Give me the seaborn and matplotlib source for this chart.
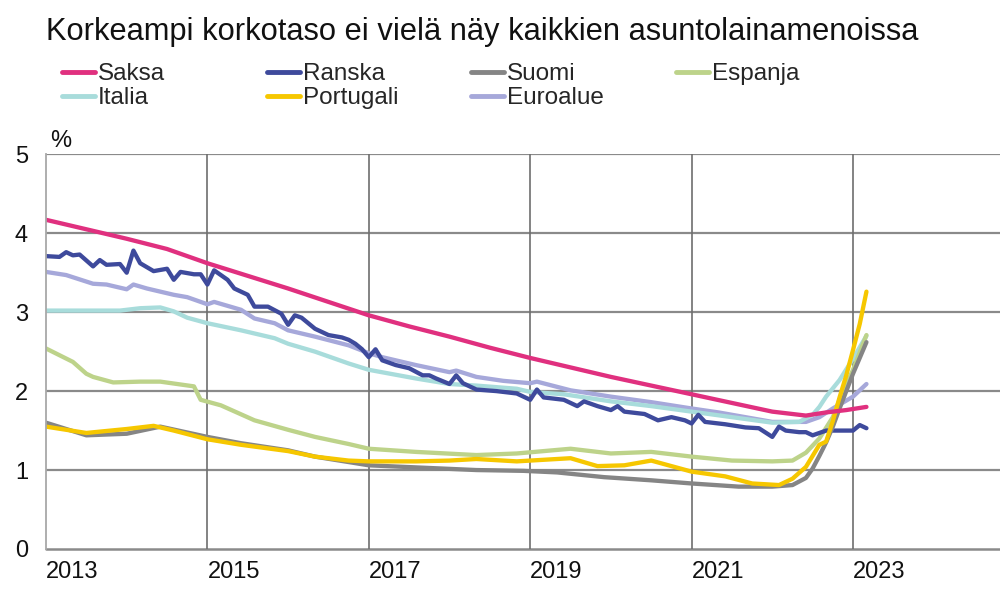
import numpy as np
import pandas as pd
import matplotlib
matplotlib.use("Agg")
import matplotlib.pyplot as plt
import seaborn as sns

# ---- data: months since 2013-01 and rate values (%) ----
saksa_m = [0, 6, 12, 18, 24, 30, 36, 42, 48, 54, 60, 66, 72, 78, 84, 90, 96, 102, 108, 113, 116, 119, 122]
saksa_v = [4.17, 4.05, 3.93, 3.80, 3.62, 3.46, 3.30, 3.13, 2.96, 2.82, 2.69, 2.55, 2.42, 2.30, 2.18, 2.07, 1.96, 1.85, 1.74, 1.69, 1.73, 1.76, 1.80]

ranska_m = [0, 2, 3, 4, 5, 7, 8, 9, 11, 12, 13, 14, 16, 18, 19, 20, 22, 23, 24, 25, 27, 28, 30, 31, 33, 35, 36, 37, 38,
            40, 42, 44, 45, 46, 47, 48, 49, 50, 52, 54, 56, 57, 58, 60, 61, 62, 64, 67, 70, 72, 73, 74, 77, 79, 80,
            82, 84, 85, 86, 89, 91, 93, 95, 96, 97, 98, 101, 104, 106, 108, 109, 110, 112, 113, 114, 116, 118, 120, 121, 122]
ranska_v = [3.71, 3.70, 3.76, 3.72, 3.73, 3.58, 3.66, 3.60, 3.61, 3.50, 3.78, 3.62, 3.52, 3.55, 3.41, 3.51, 3.48, 3.48,
            3.35, 3.53, 3.41, 3.30, 3.22, 3.07, 3.07, 2.98, 2.84, 2.96, 2.93, 2.79, 2.71, 2.68, 2.65, 2.60, 2.53, 2.43,
            2.53, 2.39, 2.33, 2.29, 2.20, 2.20, 2.16, 2.09, 2.20, 2.10, 2.02, 2.00, 1.97, 1.89, 2.02, 1.92, 1.89, 1.81,
            1.87, 1.81, 1.76, 1.81, 1.74, 1.71, 1.63, 1.67, 1.63, 1.59, 1.70, 1.61, 1.58, 1.54, 1.53, 1.42, 1.55, 1.50,
            1.48, 1.48, 1.44, 1.50, 1.50, 1.50, 1.57, 1.53]

suomi_m = [0, 6, 12, 17, 24, 29, 36, 40, 48, 56, 64, 71, 76, 83, 90, 96, 103, 108, 111, 113, 114, 115, 116, 117, 118, 119, 120, 121, 122]
suomi_v = [1.60, 1.44, 1.46, 1.55, 1.42, 1.34, 1.25, 1.17, 1.06, 1.03, 1.00, 0.99, 0.97, 0.91, 0.87, 0.83, 0.79, 0.79,
           0.81, 0.90, 1.02, 1.18, 1.35, 1.55, 1.78, 2.00, 2.22, 2.42, 2.62]

espanja_m = [0, 4, 6, 7, 10, 14, 17, 22, 23, 26, 31, 36, 40, 45, 48, 55, 64, 70, 78, 84, 90, 96, 102, 108, 111, 113, 115, 117, 118, 120, 122]
espanja_v = [2.54, 2.37, 2.22, 2.18, 2.11, 2.12, 2.12, 2.06, 1.89, 1.82, 1.63, 1.51, 1.42, 1.33, 1.27, 1.23, 1.19, 1.21,
             1.27, 1.21, 1.23, 1.17, 1.12, 1.11, 1.12, 1.22, 1.40, 1.67, 1.89, 2.27, 2.71]

italia_m = [0, 11, 14, 17, 19, 21, 24, 29, 34, 36, 40, 45, 48, 55, 60, 64, 70, 72, 77, 84, 90, 96, 102, 108, 112, 114, 115, 116, 118, 120, 122]
italia_v = [3.02, 3.02, 3.05, 3.06, 3.01, 2.93, 2.86, 2.77, 2.67, 2.60, 2.50, 2.35, 2.27, 2.16, 2.09, 2.07, 2.03, 1.99,
            1.96, 1.87, 1.81, 1.74, 1.67, 1.60, 1.61, 1.70, 1.80, 1.93, 2.14, 2.41, 2.70]

portugali_m = [0, 6, 12, 16, 19, 24, 29, 36, 40, 45, 48, 55, 60, 64, 70, 72, 78, 82, 86, 90, 93, 96, 101, 105, 109, 111,
               113, 115, 116, 117, 118, 119, 120, 121, 122]
portugali_v = [1.55, 1.47, 1.52, 1.56, 1.50, 1.39, 1.32, 1.24, 1.17, 1.12, 1.11, 1.11, 1.12, 1.14, 1.11, 1.12, 1.15, 1.05,
               1.06, 1.12, 1.05, 0.98, 0.92, 0.83, 0.81, 0.89, 1.04, 1.32, 1.36, 1.62, 1.92, 2.20, 2.52, 2.85, 3.26]

euroalue_m = [0, 3, 7, 9, 12, 13, 15, 19, 21, 24, 25, 29, 31, 34, 36, 40, 45, 48, 50, 55, 60, 61, 64, 68, 72, 73, 78, 84,
              90, 96, 100, 104, 108, 113, 115, 117, 120, 122]
euroalue_v = [3.51, 3.47, 3.36, 3.35, 3.29, 3.35, 3.30, 3.22, 3.19, 3.10, 3.13, 3.03, 2.92, 2.86, 2.77, 2.69, 2.58, 2.48,
              2.43, 2.33, 2.24, 2.26, 2.18, 2.13, 2.10, 2.12, 2.01, 1.93, 1.86, 1.78, 1.73, 1.67, 1.61, 1.61, 1.67, 1.78,
              1.93, 2.09]

series_names = ["Saksa", "Ranska", "Suomi", "Espanja", "Italia", "Portugali", "Euroalue"]
series_data = {
    "Saksa": (saksa_m, saksa_v),
    "Ranska": (ranska_m, ranska_v),
    "Suomi": (suomi_m, suomi_v),
    "Espanja": (espanja_m, espanja_v),
    "Italia": (italia_m, italia_v),
    "Portugali": (portugali_m, portugali_v),
    "Euroalue": (euroalue_m, euroalue_v),
}
colors = {
    "Saksa": "#E0307F",
    "Ranska": "#3E4A9C",
    "Suomi": "#858585",
    "Espanja": "#BDD38A",
    "Italia": "#A8DCDB",
    "Portugali": "#F6C700",
    "Euroalue": "#A6A8DA",
}
year_ticks = [2013, 2015, 2017, 2019, 2021, 2023]

title = "Korkeampi korkotaso ei vielä näy kaikkien asuntolainamenoissa"

rows = []
for name in series_names:
    ms, vs = series_data[name]
    for m, v in zip(ms, vs):
        rows.append({"x": 2013 + m / 12.0, "value": v, "series": name})
df = pd.DataFrame(rows)

sns.set_theme(style="white")
plt.rcParams["font.family"] = ["Liberation Sans", "DejaVu Sans"]

fig = plt.figure(figsize=(10, 5.9), dpi=100)
ax = fig.add_axes([0.046, 0.0695, 0.954, 0.669])

draw_order = ["Euroalue", "Italia", "Espanja", "Ranska", "Suomi", "Portugali", "Saksa"]
sns.lineplot(data=df, x="x", y="value", hue="series", hue_order=draw_order,
             palette=colors, linewidth=3.1, estimator=None, sort=True, ax=ax)
handles, labels = ax.get_legend_handles_labels()
hmap = dict(zip(labels, handles))
if ax.get_legend() is not None:
    ax.get_legend().remove()

ax.set_xlim(2013, 2013 + 954 / 80.7)
ax.set_ylim(0, 5)
ax.set_yticks([0, 1, 2, 3, 4, 5])
ax.set_xticks(year_ticks)
ax.set_xticklabels([str(y) for y in year_ticks], ha="left")
ax.set_xlabel("")
ax.set_ylabel("")
ax.tick_params(axis="both", length=0, labelsize=17, colors="#111111")
ax.tick_params(axis="y", pad=13)
ax.tick_params(axis="x", pad=9)

for y in [1, 2, 3, 4, 5]:
    ax.axhline(y, color="#8A8A8A", lw=1.6, zorder=0)
ax.axhline(0, color="#8A8A8A", lw=1.8, zorder=0, clip_on=False)
for yr in year_ticks[1:]:
    ax.axvline(yr, color="#6E6E6E", lw=1.2, zorder=0)
for s in ["top", "right", "bottom"]:
    ax.spines[s].set_visible(False)
ax.spines["left"].set_color("#A8A8A8")
ax.spines["left"].set_linewidth(1.3)

fig.text(0.046, 1 - 40 / 590, title, fontsize=22.2, va="baseline", ha="left", color="#111111")
fig.text(0.05, 1 - 147 / 590, "%", fontsize=17, va="baseline", ha="left", color="#111111")

columns = [["Saksa", "Italia"], ["Ranska", "Portugali"], ["Suomi", "Euroalue"], ["Espanja"]]
col_x = [62, 267, 471, 676]
for names, xpx in zip(columns, col_x):
    leg = fig.legend([hmap[n] for n in names], names, loc="upper left",
                     bbox_to_anchor=(xpx / 1000, 1 - 63 / 590), frameon=False,
                     fontsize=17.5, handlelength=1.35, handletextpad=0.12,
                     labelspacing=0.1, borderpad=0, borderaxespad=0)
    for line in leg.get_lines():
        line.set_linewidth(3.5)

fig.savefig("out.png", dpi=100)
